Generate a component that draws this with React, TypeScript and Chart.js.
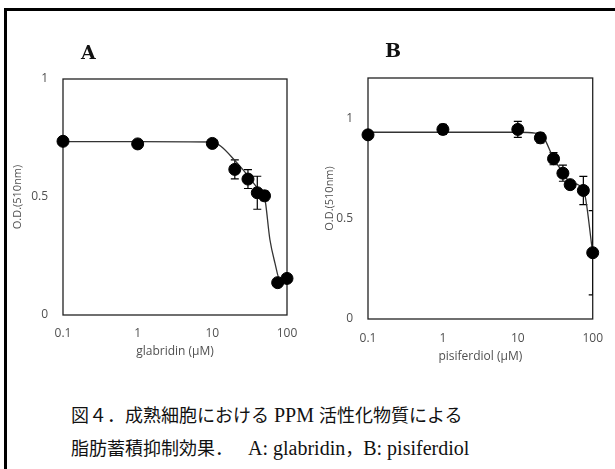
import React, { useEffect, useRef } from "react";
import { Chart, registerables } from "chart.js";
Chart.register(...registerables);

const xTickValues = [0.1, 1, 10, 100];
const xTickLabels = ["0.1", "1", "10", "100"];

// Panel A: glabridin
const aConc = [0.1, 1, 10, 20, 30, 40, 50, 75, 100];
const aOD = [0.736, 0.725, 0.727, 0.617, 0.576, 0.518, 0.505, 0.137, 0.155];
const aErr = [0.01, 0.012, 0.01, 0.04, 0.04, 0.07, 0.02, 0.01, 0.01];
const aFitConc = [0.1, 1, 10, 13, 20, 30, 40, 50, 59, 69, 80, 100];
const aFitOD = [0.735, 0.735, 0.733, 0.715, 0.655, 0.59, 0.54, 0.5, 0.32, 0.22, 0.15, 0.15];
const aYTicks = [0, 0.5, 1];
const aYLabels = ["0", "0.5", "1"];

// Panel B: pisiferdiol
const bConc = [0.1, 1, 10, 20, 30, 40, 50, 75, 100];
const bOD = [0.917, 0.944, 0.944, 0.902, 0.798, 0.726, 0.669, 0.64, 0.33];
const bErr = [0.01, 0.025, 0.04, 0.025, 0.03, 0.04, 0.02, 0.07, 0.21];
const bFitConc = [0.1, 1, 10, 17, 22, 30, 40, 50, 75, 100];
const bFitOD = [0.93, 0.93, 0.93, 0.925, 0.905, 0.8, 0.73, 0.68, 0.645, 0.33];
const bYTicks = [0, 0.5, 1];
const bYLabels = ["0", "0.5", "1"];

const fam = "'Open Sans', 'Noto Sans', sans-serif";
const tickFont = { family: fam, size: 12 };
const titleFont = { family: fam, size: 12 };
const textColor = "#505050";

const panelPlugin = {
  id: "panelPlugin",
  beforeDatasetsDraw(chart: any) {
    const { ctx, chartArea } = chart;
    const { left, top, right, bottom } = chartArea;
    ctx.save();
    ctx.strokeStyle = "#222";
    ctx.lineWidth = 1.3;
    ctx.strokeRect(left, top, right - left, bottom - top);
    ctx.beginPath();
    ctx.rect(left, top, right - left, bottom - top);
    ctx.clip();
    const ds = chart.data.datasets[1];
    const xs = chart.scales.x;
    const ys = chart.scales.y;
    ctx.strokeStyle = "#000";
    ctx.lineWidth = 1.2;
    ds.data.forEach((p: any, i: number) => {
      const e = ds.errors[i];
      const px = xs.getPixelForValue(p.x);
      const y1 = ys.getPixelForValue(p.y + e);
      const y2 = ys.getPixelForValue(p.y - e);
      ctx.beginPath();
      ctx.moveTo(px, y1);
      ctx.lineTo(px, y2);
      ctx.moveTo(px - 4, y1);
      ctx.lineTo(px + 4, y1);
      ctx.moveTo(px - 4, y2);
      ctx.lineTo(px + 4, y2);
      ctx.stroke();
    });
    ctx.restore();
  },
};

function makeConfig(p: any) {
  return {
    type: "scatter",
    data: {
      datasets: [
        {
          type: "line",
          data: p.fitConc.map((x: number, i: number) => ({ x, y: p.fitOD[i] })),
          borderColor: "#333",
          borderWidth: 1.3,
          pointRadius: 0,
          cubicInterpolationMode: "monotone",
          fill: false,
          order: 1,
        },
        {
          data: p.conc.map((x: number, i: number) => ({ x, y: p.od[i] })),
          errors: p.err,
          pointRadius: 6,
          pointHoverRadius: 6,
          backgroundColor: "#000",
          borderColor: "#000",
          clip: false,
          order: 0,
        },
      ],
    },
    options: {
      animation: false,
      responsive: false,
      events: [],
      layout: { padding: { top: p.padTop, right: p.padRight, left: 0, bottom: 0 } },
      plugins: { legend: { display: false }, tooltip: { enabled: false } },
      scales: {
        x: {
          type: "logarithmic",
          min: 0.1,
          max: 100,
          afterBuildTicks: (s: any) => {
            s.ticks = xTickValues.map((v) => ({ value: v }));
          },
          afterFit: (s: any) => {
            s.height = p.xHeight;
          },
          ticks: {
            callback: (_v: any, i: number) => xTickLabels[i],
            font: tickFont,
            color: textColor,
            padding: p.xTickPad,
            maxRotation: 0,
            autoSkip: false,
          },
          grid: { display: false, drawTicks: false },
          border: { display: false },
          title: {
            display: true,
            text: p.xTitle,
            font: titleFont,
            color: textColor,
            padding: { top: 0, bottom: p.xTitlePadBottom },
          },
        },
        y: {
          type: "linear",
          min: 0,
          max: p.yMax,
          afterBuildTicks: (s: any) => {
            s.ticks = p.yTicks.map((v: number) => ({ value: v }));
          },
          afterFit: (s: any) => {
            s.width = p.yWidth;
          },
          ticks: {
            callback: (_v: any, i: number) => p.yLabels[i],
            font: tickFont,
            color: textColor,
            padding: p.yTickPad,
          },
          grid: { display: false, drawTicks: false },
          border: { display: false },
          title: {
            display: true,
            text: "O.D.(510nm)",
            font: { family: fam, size: 11 },
            color: textColor,
            padding: { top: p.yTitlePadTop, bottom: 0 },
          },
        },
      },
    },
    plugins: [panelPlugin],
  };
}

const panelA = {
  conc: aConc, od: aOD, err: aErr, fitConc: aFitConc, fitOD: aFitOD,
  yTicks: aYTicks, yLabels: aYLabels, yMax: 1,
  padTop: 79, padRight: 23, xHeight: 55, yWidth: 63,
  xTickPad: 11, xTitlePadBottom: 11, yTickPad: 15, yTitlePadTop: 11,
  xTitle: "glabridin (µM)",
};
const panelB = {
  conc: bConc, od: bOD, err: bErr, fitConc: bFitConc, fitOD: bFitOD,
  yTicks: bYTicks, yLabels: bYLabels, yMax: 1.2,
  padTop: 78, padRight: 18, xHeight: 51, yWidth: 68,
  xTickPad: 12, xTitlePadBottom: 6, yTickPad: 15, yTitlePadTop: 23,
  xTitle: "pisiferdiol (µM)",
};

function Panel({ cfg, left, width }: any) {
  const ref = useRef<HTMLCanvasElement>(null);
  useEffect(() => {
    const chart = new Chart(ref.current as any, makeConfig(cfg) as any);
    return () => chart.destroy();
  }, []);
  return (
    <canvas
      ref={ref}
      width={width}
      height={370}
      style={{ position: "absolute", left, top: 0, width, height: 370 }}
    />
  );
}

export default function App() {
  const capStyle: any = {
    position: "absolute",
    left: 71,
    fontFamily: "'Liberation Serif', 'Noto Sans CJK JP', serif",
    fontSize: 18,
    color: "#111",
    whiteSpace: "pre",
    lineHeight: "24px",
  };
  const lat: any = { fontSize: 20 };
  const letter: any = {
    position: "absolute",
    fontFamily: "'DejaVu Serif', serif",
    fontWeight: "bold",
    fontSize: 19,
    color: "#111",
    lineHeight: "20px",
  };
  return (
    <div style={{ position: "fixed", left: 0, top: 0, width: 615, height: 469, background: "#fff", overflow: "hidden" }}>
      <div style={{ position: "absolute", left: 4, top: 8, width: 640, height: 500, borderTop: "3px solid #000", borderLeft: "3px solid #000" }} />
      <Panel cfg={panelA} left={0} width={310} />
      <Panel cfg={panelB} left={300} width={315} />
      <div style={{ ...letter, left: 81, top: 42 }}>A</div>
      <div style={{ ...letter, left: 385, top: 40 }}>B</div>
      <div style={{ ...capStyle, top: 403 }}>
        図４．成熟細胞における<span style={lat}> PPM </span>活性化物質による
      </div>
      <div style={{ ...capStyle, top: 436 }}>
        脂肪蓄積抑制効果．<span style={lat}>   A: glabridin</span>，<span style={lat}>B: pisiferdiol</span>
      </div>
    </div>
  );
}
